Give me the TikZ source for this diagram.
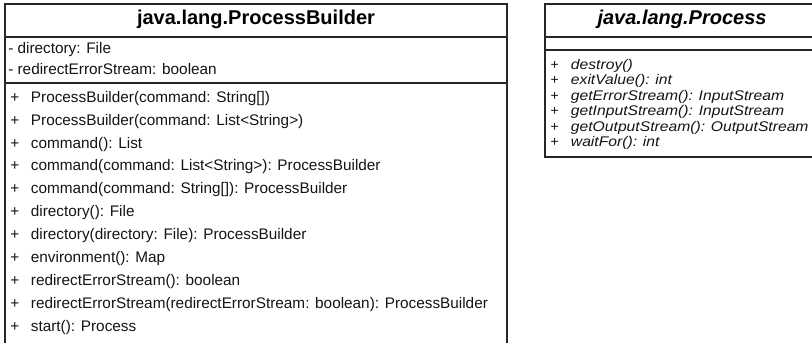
\documentclass[tikz,border=0pt]{standalone}
\usepackage{graphicx}
\usepackage{fontspec}
\setmainfont{Liberation Sans}
% the operations of java.lang.Process are set in a slightly wide italic
\newcommand\wide[1]{\scalebox{1.12}[1]{#1}}
\newcommand\pls{\makebox[15.5pt][l]{+}}
\begin{document}
\begin{tikzpicture}[x=0.75pt,y=-0.75pt,
  frame/.style={draw=black!85,line width=0.9pt},
  sep/.style={draw=black!85,line width=0.9pt},
  title/.style={font=\fontsize{15pt}{18pt}\selectfont\bfseries,inner sep=0pt,text height=1.5ex,text depth=0.3ex},
  member/.style={font=\fontsize{11.5pt}{14pt}\selectfont,inner sep=0pt,anchor=west,
                 text height=1.5ex,text depth=0.3ex,text=black!92},
  abstractop/.style={member,font=\fontsize{10.5pt}{12pt}\selectfont\itshape}]
\useasboundingbox (0,0) rectangle (812,342);

% ---- class java.lang.ProcessBuilder ----
\draw[frame] (5,345) -- (5,4) -- (507,4) -- (507,345);
\draw[sep] (5,37) -- (507,37);
\draw[sep] (5,83) -- (507,83);
\node[title] (pbname) at (256,20) {java.lang.ProcessBuilder};
\node[member] (a1) at (8,49) {- directory: File};
\node[member] (a2) at (8,70) {- redirectErrorStream: boolean};
\node[member] (m1)  at (10,98.0)  {\pls ProcessBuilder(command: String[])};
\node[member] (m2)  at (10,120.9) {\pls ProcessBuilder(command: List<String>)};
\node[member] (m3)  at (10,143.8) {\pls command(): List};
\node[member] (m4)  at (10,166.7) {\pls command(command: List<String>): ProcessBuilder};
\node[member] (m5)  at (10,189.6) {\pls command(command: String[]): ProcessBuilder};
\node[member] (m6)  at (10,212.5) {\pls directory(): File};
\node[member] (m7)  at (10,235.4) {\pls directory(directory: File): ProcessBuilder};
\node[member] (m8)  at (10,258.3) {\pls environment(): Map};
\node[member] (m9)  at (10,281.2) {\pls redirectErrorStream(): boolean};
\node[member] (m10) at (10,304.1) {\pls redirectErrorStream(redirectErrorStream: boolean): ProcessBuilder};
\node[member] (m11) at (10,327.0) {\pls start(): Process};

% ---- class java.lang.Process ----
\draw[frame] (820,4) -- (545,4) -- (545,157) -- (820,157);
\draw[sep] (545,37) -- (820,37);
\draw[sep] (545,50) -- (820,50);
\node[title,font=\fontsize{15pt}{18pt}\selectfont\bfseries\itshape] (pname) at (682,20) {java.lang.Process};
\node[abstractop] (p1) at (550,65.0)  {\pls\wide{destroy()}};
\node[abstractop] (p2) at (550,80.5)  {\pls\wide{exitValue(): int}};
\node[abstractop] (p3) at (550,96.0)  {\pls\wide{getErrorStream(): InputStream}};
\node[abstractop] (p4) at (550,111.5) {\pls\wide{getInputStream(): InputStream}};
\node[abstractop] (p5) at (550,127.0) {\pls\wide{getOutputStream(): OutputStream}};
\node[abstractop] (p6) at (550,142.5) {\pls\wide{waitFor(): int}};
\end{tikzpicture}
\end{document}
